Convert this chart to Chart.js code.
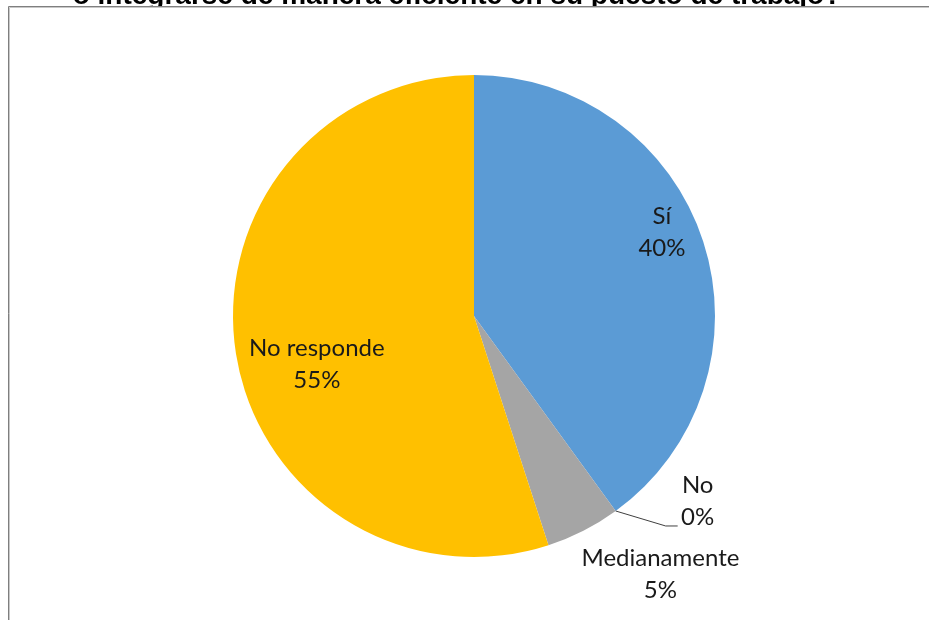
<!DOCTYPE html>
<html>
<head>
<meta charset="utf-8">
<script src="https://cdn.jsdelivr.net/npm/chart.js@4"></script>
<style>
  html, body { margin: 0; padding: 0; background: #ffffff; }
  #wrap { width: 929px; height: 620px; position: relative; }
</style>
</head>
<body>
<div id="wrap"><canvas id="c" width="929" height="620"></canvas></div>
<script>
// Survey answers
const categories = ['Sí', 'No', 'Medianamente', 'No responde'];
const percentages = [40, 0, 5, 55];
const sliceColors = ['#5B9BD5', '#ED7D31', '#A5A5A5', '#FFC000'];
const titleText = 'o integrarse de manera eficiente en su puesto de trabajo?';

// Label placement: inside labels sit on the slice bisector at a fraction of the radius;
// outside labels are offset from the slice's rim point.
const labelPlacement = [
  { inside: true, frac: 0.82, dx: 0, dy: -23 },
  { inside: false, rimAt: 'start', leader: [[50, 15], [62, 15]], dx: 82, dy: -10 },
  { inside: false, rimAt: 'mid', dx: 77, dy: 44 },
  { inside: true, frac: 0.66, dx: 0, dy: 23 }
];

const framePlugin = {
  id: 'frame',
  beforeDraw(chart) {
    const ctx = chart.ctx;
    ctx.save();
    ctx.fillStyle = '#ffffff';
    ctx.fillRect(0, 0, chart.width, chart.height);
    // clipped heading line above the plot frame
    ctx.fillStyle = '#000000';
    ctx.font = 'bold 28px "Liberation Sans", Arial, sans-serif';
    ctx.textAlign = 'center';
    ctx.textBaseline = 'alphabetic';
    ctx.fillText(titleText, 457, 4);
    // frame
    ctx.fillStyle = '#ffffff';
    ctx.fillRect(8, 6, chart.width - 8, chart.height - 6);
    ctx.strokeStyle = '#7f7f7f';
    ctx.lineWidth = 1;
    ctx.beginPath();
    ctx.moveTo(8.5, chart.height);
    ctx.lineTo(8.5, 6.5);
    ctx.lineTo(chart.width, 6.5);
    ctx.stroke();
    ctx.strokeStyle = '#c8c8c8';
    ctx.beginPath();
    ctx.moveTo(9.5, chart.height);
    ctx.lineTo(9.5, 7.5);
    ctx.lineTo(chart.width, 7.5);
    ctx.stroke();
    ctx.restore();
  }
};

const labelPlugin = {
  id: 'sliceLabels',
  afterDatasetsDraw(chart) {
    const ctx = chart.ctx;
    const meta = chart.getDatasetMeta(0);
    ctx.save();
    ctx.font = '24px Lato, "Open Sans", sans-serif';
    ctx.fillStyle = '#1a1a1a';
    ctx.textAlign = 'center';
    ctx.textBaseline = 'middle';
    meta.data.forEach((arc, i) => {
      const p = labelPlacement[i];
      const { x, y, startAngle, endAngle, outerRadius } = arc.getProps(['x', 'y', 'startAngle', 'endAngle', 'outerRadius'], true);
      let ax, ay;
      if (p.inside) {
        const mid = (startAngle + endAngle) / 2;
        ax = x + Math.cos(mid) * outerRadius * p.frac;
        ay = y + Math.sin(mid) * outerRadius * p.frac;
      } else {
        const a = p.rimAt === 'start' ? startAngle : (startAngle + endAngle) / 2;
        ax = x + Math.cos(a) * outerRadius;
        ay = y + Math.sin(a) * outerRadius;
        if (p.leader) {
          ctx.save();
          ctx.strokeStyle = '#404040';
          ctx.lineWidth = 1;
          ctx.beginPath();
          ctx.moveTo(ax, ay);
          p.leader.forEach(([lx, ly]) => ctx.lineTo(ax + lx, ay + ly));
          ctx.stroke();
          ctx.restore();
        }
      }
      const cx = ax + p.dx, cy = ay + p.dy;
      ctx.fillText(categories[i], cx, cy - 16);
      ctx.fillText(percentages[i] + '%', cx, cy + 16);
    });
    ctx.restore();
  }
};

new Chart(document.getElementById('c'), {
  type: 'pie',
  data: {
    labels: categories,
    datasets: [{
      data: percentages,
      backgroundColor: sliceColors,
      borderWidth: 0
    }]
  },
  options: {
    responsive: false,
    animation: false,
    layout: { padding: { top: 75, bottom: 63, left: 233, right: 214 } },
    plugins: {
      legend: { display: false },
      tooltip: { enabled: false },
      title: { display: false }
    }
  },
  plugins: [framePlugin, labelPlugin]
});
</script>
</body>
</html>
